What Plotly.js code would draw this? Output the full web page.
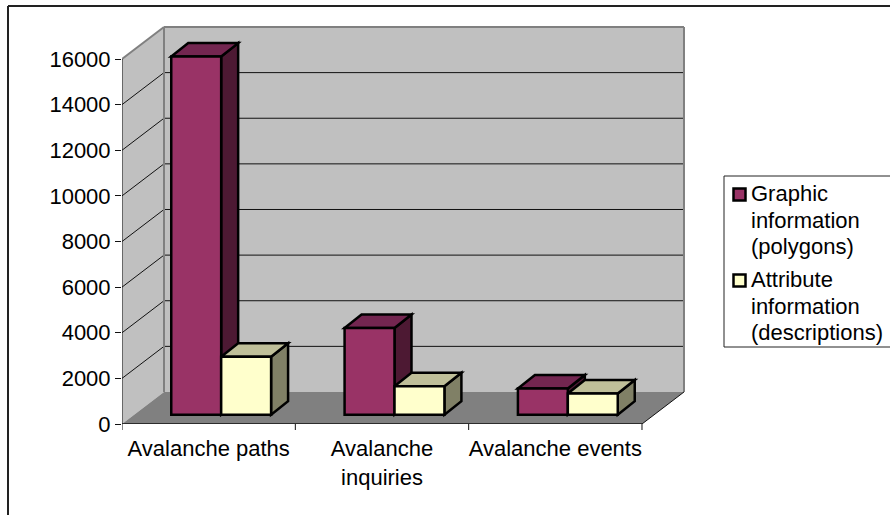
<!DOCTYPE html>
<html>
<head>
<meta charset="utf-8">
<script src="https://cdn.plot.ly/plotly-3.0.1.min.js"></script>
<style>html,body{margin:0;padding:0;background:#fff;overflow:hidden}</style>
</head>
<body>
<div id="chart" style="width:890px;height:515px"></div>
<script>
// Values per avalanche data set
const categories = ['Avalanche paths', 'Avalanche<br>inquiries', 'Avalanche events'];
const graphicInfo = [15700, 3800, 1150];
const attributeInfo = [2540, 1250, 930];
const yTicks = [0, 2000, 4000, 6000, 8000, 10000, 12000, 14000, 16000];
const graphicLabel = ['Graphic', 'information', '(polygons)'];
const attributeLabel = ['Attribute', 'information', '(descriptions)'];

// Oblique projection, expressed in axis units
const wallDx = 0.2423, wallDy = 1403;     // floor depth
const barDx = 0.098, barDy = 590;         // column depth
const frontDx = (wallDx - barDx) / 2;     // columns stand mid-floor
const frontDy = (wallDy - barDy) / 2;
const barW = 0.288;
const xMin = -0.5, xMax = categories.length - 0.5;
const yTop = 16000;

// Plot frame in pixels, used for the paper-referenced pieces
const frame = {l: 122, r: 686, t: 26, b: 424};
const px = x => (x - frame.l) / (frame.r - frame.l);
const py = y => (frame.b - y) / (frame.b - frame.t);

const path = pts => 'M' + pts.map(p => p[0] + ',' + p[1]).join('L') + 'Z';
const poly = (pts, fill, color, width) => ({
  type: 'path', xref: 'x', yref: 'y', layer: 'below', path: path(pts),
  fillcolor: fill, line: {color: color, width: width}
});
const seg = (a, b, color, width) => ({
  type: 'line', xref: 'x', yref: 'y', layer: 'below',
  x0: a[0], y0: a[1], x1: b[0], y1: b[1], line: {color: color, width: width}
});

const shapes = [];
// Walls and floor
shapes.push(poly([[xMin, 0], [xMin + wallDx, wallDy], [xMin + wallDx, yTop + wallDy], [xMin, yTop]], '#c0c0c0', '#c0c0c0', 0));
shapes.push(poly([[xMin + wallDx, wallDy], [xMax + wallDx, wallDy], [xMax + wallDx, yTop + wallDy], [xMin + wallDx, yTop + wallDy]], '#c0c0c0', '#c0c0c0', 0));
shapes.push(poly([[xMin, 0], [xMax, 0], [xMax + wallDx, wallDy], [xMin + wallDx, wallDy]], '#808080', '#808080', 0));
// Gridlines run along the side wall and across the back wall
yTicks.slice(1, -1).forEach(v => {
  shapes.push(seg([xMin, v], [xMin + wallDx, v + wallDy], '#111', 1));
  shapes.push(seg([xMin + wallDx, v + wallDy], [xMax + wallDx, v + wallDy], '#111', 1));
});
// Wall edges
shapes.push(seg([xMin, yTop], [xMin + wallDx, yTop + wallDy], '#808080', 2));
shapes.push(seg([xMin + wallDx, yTop + wallDy], [xMax + wallDx, yTop + wallDy], '#808080', 2));
shapes.push(seg([xMin + wallDx, wallDy], [xMin + wallDx, yTop + wallDy], '#808080', 2));
shapes.push(seg([xMax + wallDx, wallDy], [xMax + wallDx, yTop + wallDy], '#808080', 2));
shapes.push(seg([xMax, 0], [xMax + wallDx, wallDy], '#111', 1));
// Axis lines
shapes.push(seg([xMin, 0], [xMin, yTop], '#111', 1));
shapes.push(seg([xMin, 0], [xMax, 0], '#111', 1.5));

// Side and top faces of each column; the front face is the bar trace
const addFaces = (i, v, left, sideColor, topColor) => {
  const x0 = i + frontDx + left, x1 = x0 + barW, y0 = frontDy, y1 = frontDy + v;
  shapes.push(poly([[x1, y0], [x1 + barDx, y0 + barDy], [x1 + barDx, y1 + barDy], [x1, y1]], sideColor, '#000', 2.5));
  shapes.push(poly([[x0, y1], [x1, y1], [x1 + barDx, y1 + barDy], [x0 + barDx, y1 + barDy]], topColor, '#000', 2.5));
};
categories.forEach((c, i) => {
  addFaces(i, graphicInfo[i], -barW, '#4d1933', '#732650');
  addFaces(i, attributeInfo[i], 0, '#808066', '#bfbf99');
});

// Category boundary ticks below the floor
for (let k = 0; k <= categories.length; k++) {
  shapes.push({type: 'line', xref: 'x', yref: 'paper', x0: xMin + k, x1: xMin + k, y0: 0, y1: py(430),
    line: {color: '#111', width: 1}});
}
// Outer chart frame, open on the right and at the bottom
shapes.push({type: 'line', xref: 'paper', yref: 'paper', layer: 'above',
  x0: px(8), x1: px(890), y0: py(6), y1: py(6), line: {color: '#222', width: 2}});
shapes.push({type: 'line', xref: 'paper', yref: 'paper', layer: 'above',
  x0: px(8), x1: px(8), y0: py(515), y1: py(6), line: {color: '#222', width: 2}});

// Legend: bordered box, square keys and one text row per line
const font = {family: 'Liberation Sans, Arial, sans-serif', size: 22, color: '#000'};
shapes.push({type: 'rect', xref: 'paper', yref: 'paper', layer: 'above',
  x0: px(724), x1: px(895), y0: py(347), y1: py(176), fillcolor: '#fff', line: {color: '#222', width: 1}});
const annotations = [];
const legendEntry = (lines, fill, top) => {
  shapes.push({type: 'rect', xref: 'paper', yref: 'paper', layer: 'above',
    x0: px(733.5), x1: px(745.5), y0: py(top + 14), y1: py(top + 2), fillcolor: fill, line: {color: '#000', width: 2.5}});
  lines.forEach((text, k) => annotations.push({
    xref: 'paper', yref: 'paper', x: px(750), y: py(top + 7 + k * 26.6), xanchor: 'left', yanchor: 'middle',
    showarrow: false, text: text, font: font, borderpad: 0
  }));
};
legendEntry(graphicLabel, '#993366', 186.5);
legendEntry(attributeLabel, '#ffffcc', 272.5);

const barTrace = (values, name, fill, offset) => ({
  type: 'bar', x: categories.map((c, i) => i), y: values, name: name,
  base: values.map(() => frontDy), width: barW, offset: frontDx + offset,
  marker: {color: fill, line: {color: '#000', width: 2.5}}, hoverinfo: 'y'
});

const data = [
  barTrace(graphicInfo, graphicLabel.join(' '), '#993366', -barW),
  barTrace(attributeInfo, attributeLabel.join(' '), '#ffffcc', 0)
];

const layout = {
  width: 890, height: 515,
  margin: {l: frame.l, r: 890 - frame.r, t: frame.t, b: 515 - frame.b, pad: 0},
  paper_bgcolor: '#fff', plot_bgcolor: 'rgba(0,0,0,0)',
  font: font, showlegend: false, barmode: 'overlay',
  xaxis: {
    type: 'linear', range: [xMin, xMin + (frame.r - frame.l) / 173.33], tickmode: 'array',
    tickvals: categories.map((c, i) => i), ticktext: categories, ticklabelstandoff: 9,
    ticks: '', showgrid: false, zeroline: false, showline: false, tickangle: 0, tickfont: font
  },
  yaxis: {
    range: [0, (frame.b - frame.t) / 365 * 16000], tickmode: 'array', tickvals: yTicks,
    ticktext: yTicks.map(String), ticks: 'outside', ticklen: 6, tickwidth: 1, tickcolor: '#111',
    showgrid: false, zeroline: false, showline: false, tickfont: font
  },
  shapes: shapes,
  annotations: annotations
};

Plotly.newPlot('chart', data, layout, {displayModeBar: false, staticPlot: true});
</script>
</body>
</html>
